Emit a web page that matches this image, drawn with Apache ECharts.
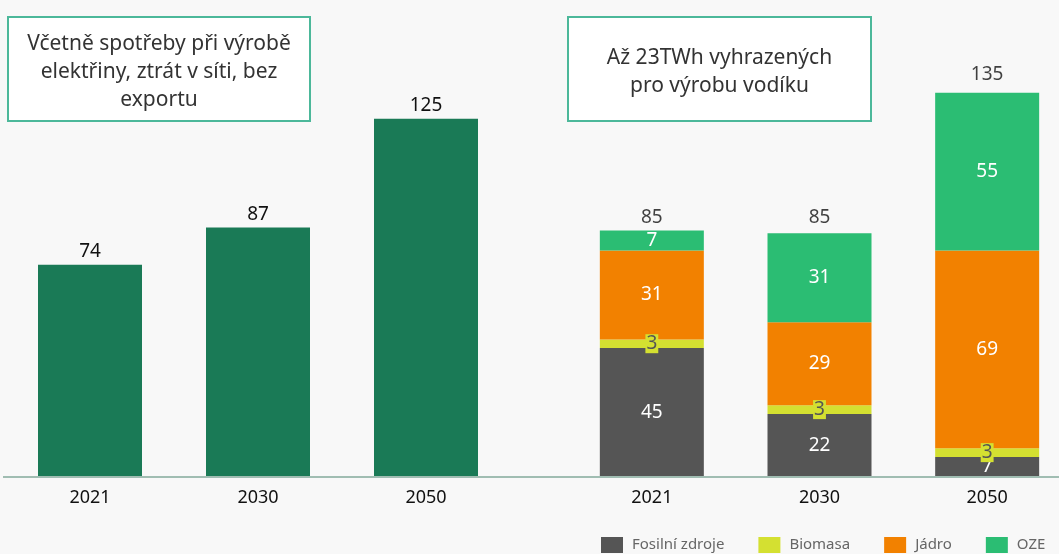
<!DOCTYPE html>
<html>
<head>
<meta charset="utf-8">
<script src="https://cdn.jsdelivr.net/npm/echarts@6/dist/echarts.min.js"></script>
<style>
  html, body { margin: 0; padding: 0; background: #f8f8f8; overflow: hidden; }
  #chart { width: 1090px; height: 554px; }
</style>
</head>
<body>
<div id="chart"></div>
<script>
// levý panel - spotřeba
var years = ["2021", "2030", "2050"];
var consumption = [74, 87, 125];

// pravý panel - výroba podle zdroje
var fossil = [45, 22, 7];
var biomass = [3, 3, 3];
var nuclear = [31, 29, 69];
var renewables = [7, 31, 55];
var totals = [85, 85, 135];

var seriesNames = ["Fosilní zdroje", "Biomasa", "Jádro", "OZE"];
var colors = ["#555555", "#d4e031", "#f28100", "#2bbd73"];

var font = "Noto Sans";
var chart = echarts.init(document.getElementById("chart"));

function innerLabel(color, bg) {
  return {
    show: true,
    position: "inside",
    color: color,
    fontSize: 19,
    fontFamily: font,
    backgroundColor: bg || "transparent",
    padding: bg ? [0, 1] : 0,
    lineHeight: 19
  };
}

function boxText(x, y, w, h, text) {
  return {
    type: "group",
    left: x,
    top: y,
    children: [
      {
        type: "rect",
        shape: { x: 0, y: 0, width: w, height: h },
        style: { fill: "#ffffff", stroke: "#4cb89a", lineWidth: 2 }
      },
      {
        type: "text",
        x: w / 2,
        y: h / 2 + 3,
        style: {
          text: text,
          fill: "#333333",
          font: "21px " + font,
          align: "center",
          verticalAlign: "middle",
          lineHeight: 28
        }
      }
    ]
  };
}

var options = {
  backgroundColor: "#f8f8f8",
  animation: false,
  grid: [
    { left: 6, width: 504, top: 47, bottom: 77 },
    { left: 568, width: 503, top: 47, bottom: 77 }
  ],
  legend: {
    data: seriesNames,
    left: 601,
    top: 537,
    padding: 0,
    itemWidth: 22,
    itemHeight: 16,
    itemGap: 34,
    icon: "rect",
    textStyle: { color: "#666666", fontSize: 15, fontFamily: font, padding: [0, 0, 0, 4] }
  },
  graphic: [
    {
      type: "line",
      shape: { x1: 3, y1: 477, x2: 1090, y2: 477 },
      style: { stroke: "#a0bdb2", lineWidth: 2 },
      z: 10
    },
    boxText(7, 16, 302, 104, "Včetně spotřeby při výrobě\nelektřiny, ztrát v síti, bez\nexportu"),
    boxText(567, 16, 303, 104, "Až 23TWh vyhrazených\npro výrobu vodíku")
  ],
  xAxis: [0, 1].map(function (i) {
    return {
      type: "category",
      gridIndex: i,
      data: years,
      axisLine: { show: false },
      axisTick: { show: false },
      axisLabel: { color: "#111111", fontSize: 18, fontFamily: font, margin: 12 }
    };
  }),
  yAxis: [0, 1].map(function (i) {
    return { type: "value", gridIndex: i, min: 0, max: 150, show: false };
  }),
  series: [
    {
      name: "Spotřeba",
      type: "bar",
      xAxisIndex: 0,
      yAxisIndex: 0,
      barWidth: 104,
      data: consumption,
      itemStyle: { color: "#1a7a56" },
      label: { show: true, position: "top", color: "#111111", fontSize: 19, fontFamily: font, distance: 4 }
    },
    {
      name: seriesNames[0],
      type: "bar",
      xAxisIndex: 1,
      yAxisIndex: 1,
      stack: "zdroje",
      barWidth: 104,
      data: fossil,
      itemStyle: { color: colors[0] },
      label: innerLabel("#ffffff")
    },
    {
      name: seriesNames[1],
      type: "bar",
      xAxisIndex: 1,
      yAxisIndex: 1,
      stack: "zdroje",
      data: biomass,
      itemStyle: { color: colors[1] },
      label: innerLabel("#555555", colors[1])
    },
    {
      name: seriesNames[2],
      type: "bar",
      xAxisIndex: 1,
      yAxisIndex: 1,
      stack: "zdroje",
      data: nuclear,
      itemStyle: { color: colors[2] },
      label: innerLabel("#ffffff")
    },
    {
      name: seriesNames[3],
      type: "bar",
      xAxisIndex: 1,
      yAxisIndex: 1,
      stack: "zdroje",
      data: renewables,
      itemStyle: { color: colors[3] },
      label: innerLabel("#ffffff")
    },
    {
      // součty nad sloupci
      name: "Celkem",
      type: "scatter",
      xAxisIndex: 1,
      yAxisIndex: 1,
      symbolSize: 0,
      data: totals,
      label: {
        show: true,
        position: "top",
        distance: 6,
        color: "#111111",
        fontSize: 19,
        fontFamily: font,
        formatter: "{c}"
      }
    }
  ]
};

chart.setOption(options);
</script>
</body>
</html>
